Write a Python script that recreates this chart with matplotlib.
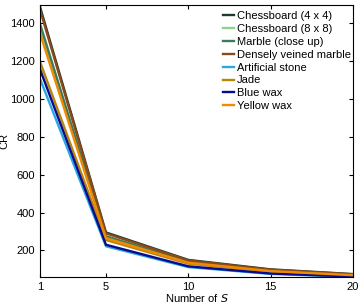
import matplotlib
matplotlib.use("Agg")
import matplotlib.pyplot as plt

S = [1, 5, 10, 15, 20]

chess4 = [1485, 295, 150, 100, 75]
chess8 = [1375, 270, 138, 92, 70]
marble = [1395, 275, 140, 94, 71]
veined = [1470, 290, 147, 98, 74]
art_stone = [1105, 222, 112, 76, 60]
jade = [1195, 255, 130, 88, 67]
blue_wax = [1155, 230, 116, 78, 62]
yellow_wax = [1345, 265, 135, 91, 69]

series = [
    ("Chessboard (4 x 4)", chess4, "#1f3a2a"),
    ("Chessboard (8 x 8)", chess8, "#8fd18f"),
    ("Marble (close up)", marble, "#3d7a5c"),
    ("Densely veined marble", veined, "#8b4a1c"),
    ("Artificial stone", art_stone, "#2aa7e0"),
    ("Jade", jade, "#b8860b"),
    ("Blue wax", blue_wax, "#0a0a8c"),
    ("Yellow wax", yellow_wax, "#f08a00"),
]

plt.rcParams["font.family"] = ["Liberation Sans", "DejaVu Sans"]

fig = plt.figure(figsize=(3.61, 3.03), dpi=100)
ax = fig.add_axes([0.111, 0.086, 0.867, 0.897])

for label, vals, color in series:
    ax.plot(S, vals, color=color, linewidth=1.7, label=label)

ax.set_xlim(1, 20)
ax.set_ylim(60, 1495)
ax.set_xticks([1, 5, 10, 15, 20])
ax.set_yticks([200, 400, 600, 800, 1000, 1200, 1400])
ax.tick_params(labelsize=8, direction="in", length=3, top=True, right=True)
ax.set_xlabel("Number of $S$", fontsize=8, labelpad=0)
ax.set_ylabel("CR", fontsize=8)
ax.yaxis.set_label_coords(-0.098, 0.5)

ax.legend(loc="upper left", bbox_to_anchor=(0.603, 0.982),
          bbox_transform=fig.transFigure, fontsize=8, handlelength=1.0,
          handletextpad=0.2, labelspacing=0.26, borderpad=0.0,
          frameon=False)

fig.savefig("out.png", dpi=100)
